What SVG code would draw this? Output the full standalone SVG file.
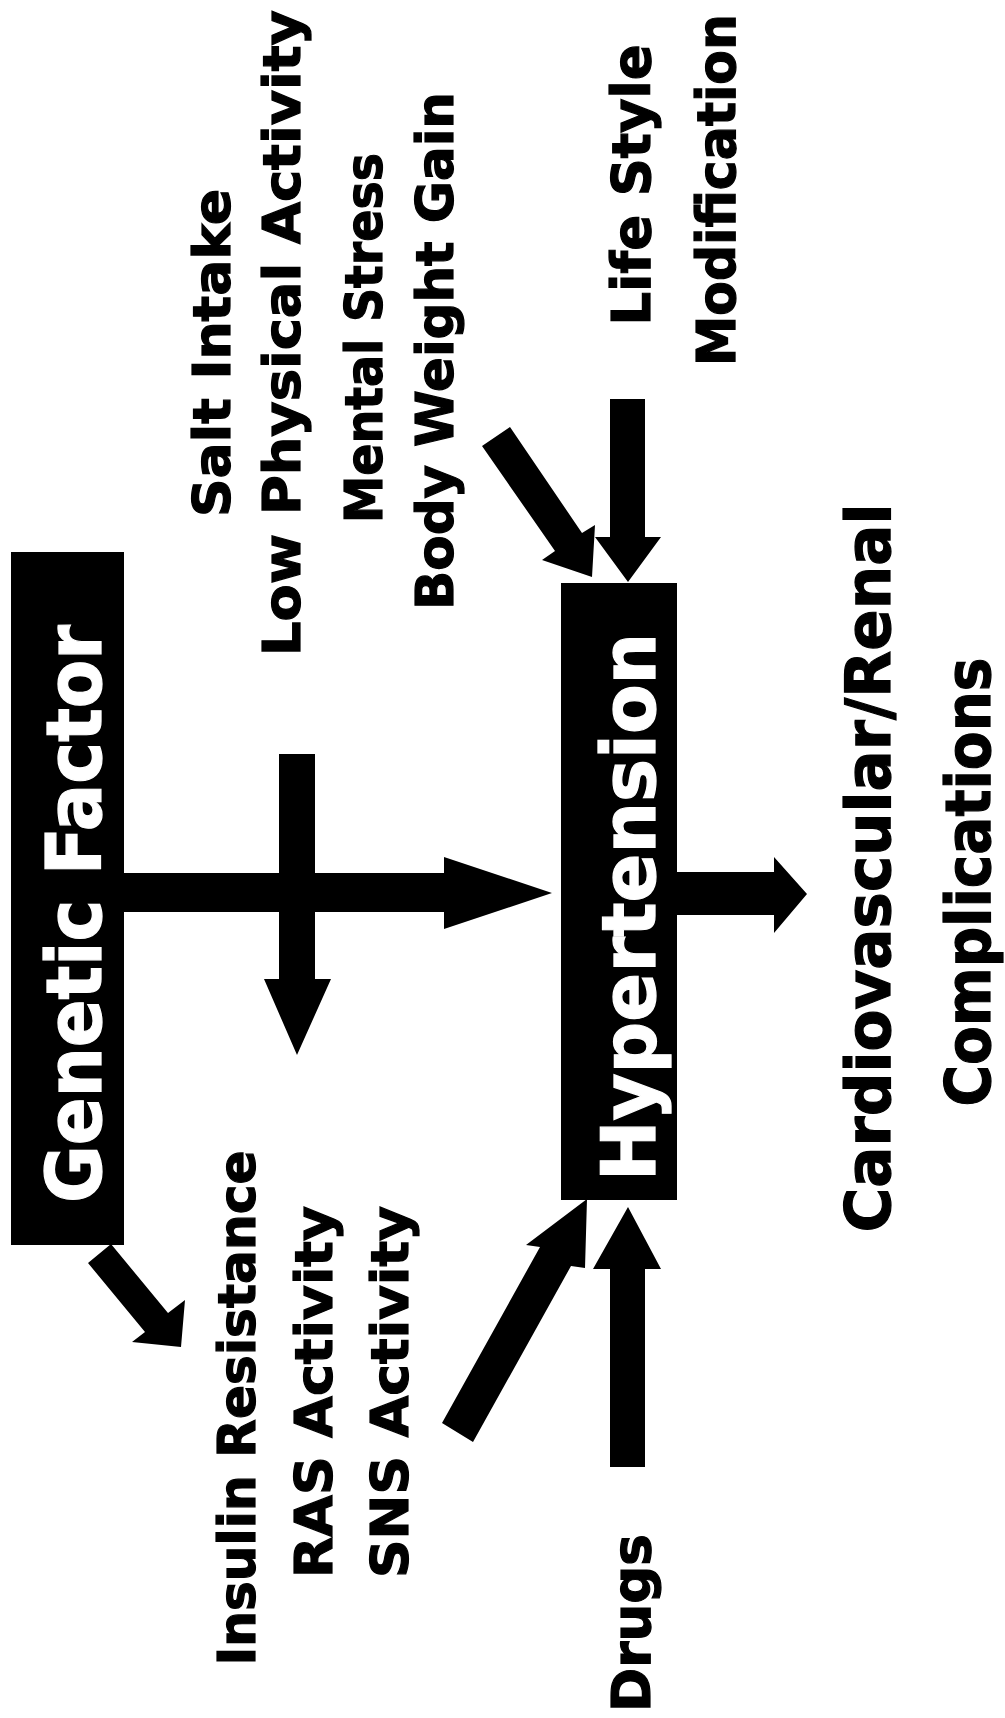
<svg xmlns="http://www.w3.org/2000/svg" width="1005" height="1718" viewBox="0 0 1005 1718">
<style>
.lbl{font-family:"DejaVu Sans","Verdana",sans-serif;font-weight:bold;fill:#000;stroke:#000;stroke-width:1.2;text-anchor:middle}
.wt{fill:#fff;stroke:#fff}
.box{fill:#000}
.arr{fill:#000;stroke:none}
</style>
<rect x="0" y="0" width="1005" height="1718" fill="#fff"/>
<g id="genetic-factor">
<rect class="box" x="11" y="552" width="113" height="693"/>
<text class="lbl wt" font-size="76" transform="translate(101,914) rotate(-90)" textLength="578" lengthAdjust="spacingAndGlyphs">Genetic Factor</text>
</g>
<g id="hypertension">
<rect class="box" x="561" y="583" width="116" height="617"/>
<text class="lbl wt" font-size="74" transform="translate(655,907) rotate(-90)" textLength="548" lengthAdjust="spacingAndGlyphs">Hypertension</text>
</g>
<g id="lifestyle-factors">
<text class="lbl" font-size="51" transform="translate(230,353) rotate(-90)" textLength="328" lengthAdjust="spacingAndGlyphs">Salt Intake</text>
<text class="lbl" font-size="51" transform="translate(300,333) rotate(-90)" textLength="646" lengthAdjust="spacingAndGlyphs">Low Physical Activity</text>
<text class="lbl" font-size="51" transform="translate(382,338) rotate(-90)" textLength="370" lengthAdjust="spacingAndGlyphs">Mental Stress</text>
<text class="lbl" font-size="51" transform="translate(453,351) rotate(-90)" textLength="518" lengthAdjust="spacingAndGlyphs">Body Weight Gain</text>
</g>
<g id="lifestyle-modification">
<text class="lbl" font-size="54" transform="translate(650,185) rotate(-90)" textLength="281" lengthAdjust="spacingAndGlyphs">Life Style</text>
<text class="lbl" font-size="54" transform="translate(735,190) rotate(-90)" textLength="352" lengthAdjust="spacingAndGlyphs">Modification</text>
</g>
<g id="complications">
<text class="lbl" font-size="62" transform="translate(890,868) rotate(-90)" textLength="729" lengthAdjust="spacingAndGlyphs">Cardiovascular/Renal</text>
<text class="lbl" font-size="62" transform="translate(990,882) rotate(-90)" textLength="449" lengthAdjust="spacingAndGlyphs">Complications</text>
</g>
<g id="intermediate-factors">
<text class="lbl" font-size="51" transform="translate(255,1408) rotate(-90)" textLength="515" lengthAdjust="spacingAndGlyphs">Insulin Resistance</text>
<text class="lbl" font-size="51" transform="translate(332,1392) rotate(-90)" textLength="372" lengthAdjust="spacingAndGlyphs">RAS Activity</text>
<text class="lbl" font-size="51" transform="translate(408,1392) rotate(-90)" textLength="372" lengthAdjust="spacingAndGlyphs">SNS Activity</text>
</g>
<g id="drugs">
<text class="lbl" font-size="54" transform="translate(650,1623) rotate(-90)" textLength="178" lengthAdjust="spacingAndGlyphs">Drugs</text>
</g>
<g id="connectors">
<polygon class="arr" points="122,873 444,873 444,857 552,893 444,929 444,912 122,912"/>
<polygon class="arr" points="279,754 315,754 315,979 331,979 297,1055 264,979 279,979"/>
<polygon class="arr" points="677,872 774,872 774,857 807,894 774,933 774,915 677,915"/>
<polygon class="arr" points="88,1263 111,1244 168,1313 185,1300 181,1347 132,1342 145,1332"/>
<polygon class="arr" points="442,1423 540,1247 526,1245 587,1199 585,1268 571,1266 473,1442"/>
<polygon class="arr" points="610,1467 610,1269 593,1269 628,1207 661,1269 645,1269 645,1467"/>
<polygon class="arr" points="610,399 645,399 645,537 661,537 628,582 595,537 610,537"/>
<polygon class="arr" points="482,446 555,551 542,560 592,577 595,525 582,533 510,427"/>
</g>
</svg>
